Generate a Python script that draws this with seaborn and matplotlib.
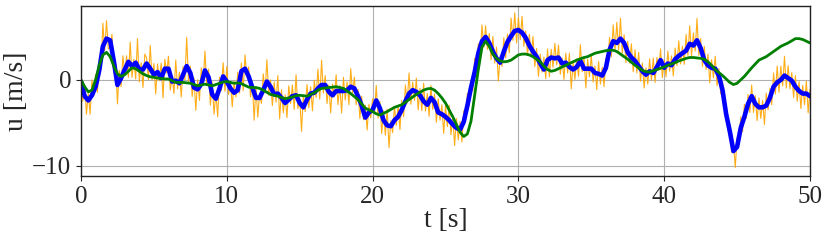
import numpy as np
import matplotlib
matplotlib.use("Agg")
import matplotlib.pyplot as plt
import seaborn as sns

# measured signal (orange), sampled every 0.125 s
u_measured = [
    0.8, -2.5, -0.6, -4.0, -1.6, -4.0, 0.0, -1.9, 0.6, -1.45, 1.6, 1.2, 6.6, 3.4, 6.9, 3.6,
    3.8, 5.3, 0.8, 1.8, -2.8, 1.1, -0.8, 2.8, 0.7, 2.8, 0.3, 4.4, 0.3, 2.4, 0.1, 4.8,
    -0.25, 2.0, -0.9, 3.0, 2.55, 0.0, 4.0, 0.0, 1.9, -1.65, 1.85, -0.1, 1.95, -2.1, 2.4, 0.8,
    2.75, -1.2, 0.45, -1.6, 2.3, -1.05, 0.9, -2.0, 1.55, 0.0, 4.95, -0.25, 1.6, -1.95, 0.2, -3.55,
    0.0, -2.4, 1.4, -0.5, 3.35, -0.6, 1.25, -2.95, -0.25, -4.0, -1.55, -4.3, 0.3, -1.25, 2.0, -1.35,
    1.55, -1.7, -0.2, -3.15, -0.2, -2.0, 0.9, -1.55, 1.95, -1.25, 2.9, 0.35, 1.5, -2.0, -0.25, -4.7,
    -0.8, -4.35, -1.6, -2.75, 0.7, -1.5, 2.35, -1.8, 0.0, -3.0, -0.25, -2.6, 0.5, -4.55, -1.15, -3.85,
    -1.75, -4.4, -0.7, -2.75, -0.6, -3.45, 0.6, -3.35, -2.05, -6.0, -1.75, -3.7, -0.55, -3.25, -0.8, -3.6,
    -0.05, -2.05, 1.25, -2.25, 2.3, -1.55, 0.5, -2.75, -0.6, -3.85, -0.5, -2.0, 0.6, -2.9, -0.65, -3.85,
    0.3, -2.35, -0.25, -2.9, 1.3, -1.55, 0.3, -2.9, -1.1, -4.5, -1.9, -4.65, -2.95, -5.85, -2.85, -4.45,
    -2.2, -3.9, -0.65, -4.45, -2.5, -6.25, -3.6, -6.45, -3.4, -7.9, -4.75, -6.15, -3.1, -5.3, -3.0, -5.8,
    -2.4, -4.3, -0.6, -2.7, 0.8, -2.85, -0.25, -2.4, 0.2, -3.5, -1.0, -3.6, -0.4, -3.65, -1.6, -4.25,
    -0.65, -3.45, -1.65, -4.95, -2.2, -4.7, -2.9, -6.25, -3.0, -5.45, -2.95, -6.4, -4.4, -7.65, -4.5, -7.0,
    -4.85, -7.25, -3.6, -4.75, -1.55, -3.05, -0.1, -1.3, 2.5, 1.35, 4.2, 2.35, 6.4, 3.8, 6.3, 3.55,
    5.4, 2.35, 5.05, 1.95, 3.8, -0.15, 2.8, 1.55, 4.9, 2.55, 5.35, 3.15, 7.2, 4.6, 7.8, 4.3,
    7.25, 4.7, 7.4, 3.9, 5.7, 2.85, 5.3, 2.85, 5.05, 1.55, 3.65, 0.4, 3.0, 0.9, 2.65, 0.15,
    3.6, 0.35, 3.55, 1.45, 4.25, 1.75, 4.05, 0.65, 2.55, 0.05, 3.1, 0.8, 3.1, -1.05, 2.0, 0.05,
    2.45, 0.4, 4.1, 0.95, 2.6, -0.95, 2.4, 0.35, 2.9, -0.25, 1.6, -1.15, 2.15, -0.5, 1.45, -0.8,
    2.5, 1.65, 4.95, 2.7, 6.4, 3.45, 6.7, 3.45, 7.2, 3.1, 5.25, 2.0, 4.5, 1.95, 4.2, 0.95,
    3.5, 0.8, 3.2, -0.15, 1.95, -0.95, 1.4, -0.5, 2.45, -0.05, 2.55, -0.3, 2.6, 1.1, 3.6, 0.25,
    2.35, 0.35, 3.35, 1.0, 2.8, 0.45, 3.7, 1.65, 4.55, 1.85, 3.9, 1.8, 5.3, 2.85, 6.3, 2.8,
    5.45, 3.35, 7.15, 2.85, 4.8, 1.55, 3.9, 1.2, 3.0, -0.35, 2.35, 0.25, 2.75, -0.7, 1.3, -1.65,
    -0.25, -3.4, -2.9, -5.95, -5.2, -8.45, -7.35, -10.2, -6.7, -7.65, -4.3, -6.05, -2.85, -4.5, -1.7, -3.8,
    -0.6, -3.8, -1.85, -4.75, -2.1, -4.5, -2.4, -5.2, -1.55, -3.5, -1.0, -2.9, 0.8, -1.65, 1.6, -1.45,
    1.6, -0.7, 2.75, -0.95, 1.65, -1.05, 0.85, -2.05, 0.5, -2.5, -0.2, -3.35, -0.65, -2.9, -0.15, -3.85,
    -1.1,
]

# filtered signal (blue), every 0.25 s
u_filtered = [
    -0.2, -1.9, -2.4, -1.8, -0.8, 1.1, 3.9, 4.8, 4.6, 2.2, -0.6, 0.2, 1.2, 2.1, 1.6, 2.0,
    1.2, 1.2, 1.9, 1.3, 0.6, 0.9, 0.2, 1.3, 1.3, -0.2, -0.1, -0.4, 0.6, 1.6, 0.8, -0.9,
    -1.1, -0.5, 1.1, 0.3, -1.7, -2.2, -1.0, 0.4, -0.2, -1.0, -1.5, -1.2, 1.0, 1.3, 0.4, -0.9,
    -2.1, -2.1, -1.2, -0.2, -0.8, -1.7, -1.6, -2.1, -2.7, -2.3, -1.9, -1.8, -2.7, -3.2, -2.3, -1.6,
    -1.5, -1.0, -0.6, -0.6, -1.4, -1.8, -1.3, -1.3, -1.3, -1.2, -0.8, -1.0, -1.9, -3.0, -4.4, -3.8,
    -3.5, -2.4, -3.3, -4.7, -5.3, -5.4, -4.7, -4.3, -3.5, -2.5, -1.6, -1.2, -1.4, -1.8, -2.5, -2.9,
    -2.1, -2.6, -3.8, -4.0, -4.3, -4.7, -5.2, -5.6, -5.8, -4.9, -3.0, -0.9, 0.9, 3.1, 4.5, 5.0,
    4.3, 3.3, 2.5, 2.0, 3.3, 4.4, 5.1, 5.7, 5.8, 5.5, 4.9, 4.0, 3.3, 2.7, 1.9, 1.2,
    2.3, 2.6, 2.5, 2.6, 1.9, 2.0, 1.5, 1.2, 1.5, 2.2, 1.3, 1.3, 1.3, 0.8, 0.7, 0.5,
    1.4, 3.5, 4.5, 4.3, 4.8, 4.3, 3.2, 2.6, 2.2, 1.6, 1.0, 0.6, 1.0, 0.8, 1.5, 2.3,
    1.4, 1.9, 1.7, 2.4, 2.8, 3.1, 3.4, 4.2, 4.0, 4.6, 3.7, 2.3, 1.7, 1.4, 1.3, 0.5,
    -1.2, -4.0, -6.0, -8.3, -7.8, -5.6, -4.3, -2.8, -1.9, -2.8, -3.2, -3.2, -3.0, -2.1, -0.8, -0.3,
    0.0, 0.5, 0.2, -0.1, -0.8, -1.3, -1.6, -1.6, -1.9,
]

# model estimate (green), every 0.25 s
u_model = [
    0.0, -0.8, -1.4, -1.2, 0.0, 1.7, 2.9, 3.2, 2.7, 1.6, 0.7, 0.4, 0.6, 1.0, 1.4, 1.3,
    1.0, 0.7, 0.5, 0.35, 0.3, 0.2, 0.15, 0.1, 0.1, -0.1, -0.3, -0.3, -0.3, -0.35, -0.4, -0.55,
    -0.7, -0.6, -0.5, -0.6, -0.7, -0.55, -0.4, -0.25, -0.2, -0.3, -0.4, -0.35, -0.45, -0.65, -0.85, -0.9,
    -0.9, -1.0, -1.2, -1.45, -1.7, -1.8, -1.9, -2.05, -2.2, -2.1, -2.0, -1.85, -1.8, -1.85, -1.9, -1.7,
    -1.5, -1.2, -1.0, -0.95, -0.9, -0.85, -0.8, -0.9, -1.0, -1.3, -1.6, -1.95, -2.3, -2.8, -3.3, -3.5,
    -3.7, -3.95, -4.1, -3.9, -3.7, -3.45, -3.2, -3.05, -2.9, -2.6, -2.3, -2.0, -1.7, -1.45, -1.2, -1.05,
    -1.0, -1.2, -1.6, -2.1, -2.7, -3.5, -4.3, -5.2, -6.1, -6.6, -6.3, -4.8, -1.8, 1.2, 3.8, 4.5,
    3.9, 3.0, 2.5, 2.2, 2.1, 2.15, 2.3, 2.6, 2.9, 3.0, 3.0, 2.9, 2.7, 2.4, 2.1, 1.6,
    1.2, 1.0, 1.1, 1.3, 1.5, 1.7, 1.9, 2.1, 2.3, 2.45, 2.6, 2.7, 2.9, 3.1, 3.2, 3.3,
    3.4, 3.45, 3.45, 3.3, 3.0, 2.7, 2.4, 2.05, 1.7, 1.4, 1.1, 0.95, 0.9, 1.05, 1.2, 1.35,
    1.5, 1.7, 1.85, 2.0, 2.2, 2.35, 2.5, 2.6, 2.6, 2.55, 2.5, 2.4, 2.1, 1.7, 1.2, 0.85,
    0.5, 0.1, -0.3, -0.55, -0.4, 0.0, 0.4, 0.9, 1.4, 1.85, 2.3, 2.5, 2.7, 3.0, 3.3, 3.6,
    3.9, 4.1, 4.3, 4.55, 4.8, 4.8, 4.7, 4.5, 4.3,
]

t_end = 50
x_ticks = [0, 10, 20, 30, 40, 50]
y_ticks = [-10, 0]

t_measured = np.linspace(0, t_end, len(u_measured))
t_filtered = np.linspace(0, t_end, len(u_filtered))
t_model = np.linspace(0, t_end, len(u_model))

sns.set_style("ticks", {"axes.grid": True, "grid.color": "#b0b0b0",
                        "axes.edgecolor": "#222222"})
plt.rcParams["font.family"] = ["Liberation Serif", "DejaVu Serif"]
plt.rcParams["axes.unicode_minus"] = True

fig, ax = plt.subplots(figsize=(8.3, 2.41), dpi=100)
fig.subplots_adjust(left=81 / 830, right=810 / 830, top=1 - 6 / 241, bottom=1 - 176 / 241)

sns.lineplot(x=t_measured, y=u_measured, ax=ax, color="orange", linewidth=0.8, alpha=0.9)
sns.lineplot(x=t_filtered, y=u_filtered, ax=ax, color="blue", linewidth=3.3)
sns.lineplot(x=t_model, y=u_model, ax=ax, color="green", linewidth=2.0)

ax.set_xlim(0, t_end)
ax.set_ylim(-11.2, 8.6)
ax.set_xticks(x_ticks)
ax.set_yticks(y_ticks)
ax.grid(True, color="#b0b0b0", linewidth=0.8)
ax.tick_params(labelsize=18, length=3.5, width=0.8)
ax.set_xlabel("t [s]", fontsize=20, labelpad=0)
ax.set_ylabel("u [m/s]", fontsize=20, labelpad=2)
for s in ax.spines.values():
    s.set_linewidth(1.0)

fig.savefig("out.png", dpi=100)
